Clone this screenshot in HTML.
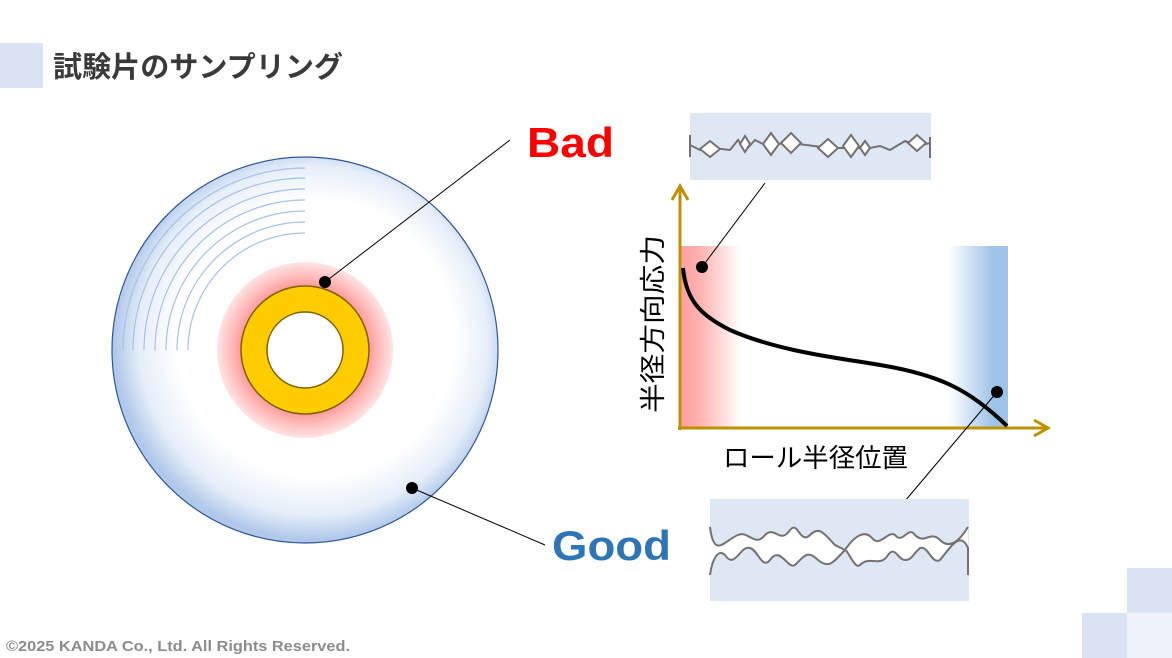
<!DOCTYPE html>
<html><head><meta charset="utf-8"><style>
html,body{margin:0;padding:0;background:#fff;}
body{width:1172px;height:658px;overflow:hidden;position:relative;font-family:"Liberation Sans","Noto Sans CJK JP",sans-serif;}
</style></head><body>
<svg width="1172" height="658" viewBox="0 0 1172 658" xmlns="http://www.w3.org/2000/svg" style="position:absolute;left:0;top:0">
<defs>
<radialGradient id="disk" cx="312" cy="342" r="198" fx="325" fy="330" gradientUnits="userSpaceOnUse">
<stop offset="0" stop-color="#fff"/><stop offset="0.7" stop-color="#fff"/><stop offset="0.88" stop-color="#e6eef9"/><stop offset="1" stop-color="#b0c8ea"/></radialGradient>
<radialGradient id="glow" cx="305" cy="350" r="88" gradientUnits="userSpaceOnUse">
<stop offset="0.6" stop-color="#ff7070"/><stop offset="0.8" stop-color="#ffb0b0"/><stop offset="1" stop-color="#ffe4e4"/></radialGradient>
<linearGradient id="red" x1="0" x2="1"><stop offset="0" stop-color="#ffa0a0"/><stop offset="0.3" stop-color="#ffb0b0"/><stop offset="1" stop-color="#fff"/></linearGradient>
<linearGradient id="blue" x1="0" x2="1"><stop offset="0" stop-color="#fff"/><stop offset="0.75" stop-color="#9ec3e8"/><stop offset="1" stop-color="#9ec3e8"/></linearGradient>
</defs>
<rect x="0" y="43" width="43" height="45" fill="#dae3f3"/>
<text x="53" y="77" font-size="29" font-weight="bold" fill="#3a3a3a" textLength="290" lengthAdjust="spacingAndGlyphs">試験片のサンプリング</text>
<circle cx="305" cy="350" r="193" fill="url(#disk)" stroke="#2f5597" stroke-width="1.2"/>
<g fill="none" stroke="#a9c0e6" stroke-width="1.2">
<path d="M123 350 A182 182 0 0 1 305 168"/>
<path d="M133 350 A172 172 0 0 1 305 178"/>
<path d="M144 350 A161 161 0 0 1 305 189"/>
<path d="M155 350 A150 150 0 0 1 305 200"/>
<path d="M166 350 A139 139 0 0 1 305 211"/>
<path d="M177 350 A128 128 0 0 1 305 222"/>
<path d="M188 350 A117 117 0 0 1 305 233"/>
</g>
<circle cx="305" cy="350" r="88" fill="url(#glow)"/>
<circle cx="305" cy="350" r="64" fill="#ffcc00" stroke="#7f6000" stroke-width="1.5"/>
<circle cx="305" cy="350" r="38" fill="#fff" stroke="#7f6000" stroke-width="1.5"/>
<line x1="325" y1="282" x2="510" y2="140" stroke="#000" stroke-width="1"/>
<circle cx="325" cy="282" r="6" fill="#000"/>
<line x1="412" y1="488" x2="545" y2="545" stroke="#000" stroke-width="1"/>
<circle cx="412" cy="488" r="6" fill="#000"/>
<text x="527" y="157" font-size="42" font-weight="bold" fill="#ff0000" textLength="87" lengthAdjust="spacingAndGlyphs">Bad</text>
<text x="552" y="560" font-size="42" font-weight="bold" fill="#2e75b6" textLength="119" lengthAdjust="spacingAndGlyphs">Good</text>
<!-- chart -->
<rect x="681" y="246" width="60" height="182" fill="url(#red)"/>
<rect x="948" y="246" width="60" height="182" fill="url(#blue)"/>
<path d="M680 430 V188 M672 200 L680 186 L688 200" fill="none" stroke="#bf9000" stroke-width="3"/>
<path d="M678 428 H1046 M1034 420 L1048 428 L1034 436" fill="none" stroke="#bf9000" stroke-width="3"/>
<path d="M683 268 C686 300 700 315 730 330 C780 352 840 358 880 365 C940 375 970 390 1007 426" fill="none" stroke="#000" stroke-width="4"/>
<circle cx="702" cy="267" r="6" fill="#000"/>
<circle cx="997" cy="392" r="6" fill="#000"/>
<line x1="702" y1="267" x2="765" y2="183" stroke="#000" stroke-width="1"/>
<line x1="997" y1="392" x2="905" y2="501" stroke="#000" stroke-width="1"/>
<text x="723" y="467" font-size="26" fill="#000" textLength="185" lengthAdjust="spacingAndGlyphs">ロール半径位置</text>
<text transform="translate(662 413) rotate(-90)" font-size="26" fill="#000" textLength="178" lengthAdjust="spacingAndGlyphs">半径方向応力</text>
<!-- top box -->
<rect x="690" y="113" width="241" height="67" fill="#dee8f4"/>
<g fill="#fff" stroke="#767171" stroke-width="2">
<path d="M690 145 L700 150 L712 148 L730 150 L738 140 L745 151 L755 140 L765 145 L790 143 L830 148 L870 148 L880 146 L890 150 L905 141 L918 146 L930 143" fill="none"/>
<path d="M690 135 V157 M930 137 V158" fill="none"/>
<path d="M700 149 l10 -8 l10 8 l-10 8z"/><path d="M740 144 l5 -8 l5 8 l-5 8z"/><path d="M763 144 l8 -11 l8 11 l-8 11z"/><path d="M781 143 l10 -10 l10 10 l-10 10z"/>
<path d="M818 148 l10 -9 l10 9 l-10 9z"/><path d="M843 146 l8 -11 l8 11 l-8 11z"/><path d="M860 148 l5 -7 l5 7 l-5 7z"/><path d="M908 143 l9 -8 l9 8 l-9 8z"/>
</g>
<!-- bottom box -->
<rect x="710" y="499" width="259" height="102" fill="#dee8f4"/>
<path d="M710 527 C714 560 725 540 738 535 C748 530 755 548 765 535 C775 525 780 545 790 530 C798 520 800 545 810 535 C820 525 825 535 835 545 L845 550 C855 535 865 530 872 538 C880 548 888 530 895 535 C903 545 908 525 915 535 C925 545 930 530 940 540 C950 550 960 540 968 527 L968 548 C960 530 950 548 940 560 C932 565 928 545 920 548 C912 555 912 560 905 560 C898 560 895 545 888 555 C880 568 870 555 860 565 C855 570 848 550 845 550 C835 560 830 570 818 560 C808 550 805 555 795 565 C788 570 780 545 770 560 C762 570 758 550 750 548 C740 545 735 570 725 555 C718 548 712 560 710 575 Z" fill="#fff"/>
<g fill="none" stroke="#767171" stroke-width="2">
<path d="M710 527 C714 560 725 540 738 535 C748 530 755 548 765 535 C775 525 780 545 790 530 C798 520 800 545 810 535 C820 525 825 535 835 545 L845 550 C855 535 865 530 872 538 C880 548 888 530 895 535 C903 545 908 525 915 535 C925 545 930 530 940 540 C950 550 960 540 968 527"/>
<path d="M710 575 C712 560 718 548 725 555 C735 570 740 545 750 548 C758 550 762 570 770 560 C780 545 788 570 795 565 C805 555 808 550 818 560 C830 570 835 560 845 550 C848 550 855 570 860 565 C870 555 880 568 888 555 C895 545 898 560 905 560 C912 560 912 555 920 548 C928 545 932 565 940 560 C950 548 960 530 968 548 V575"/>
</g>
<rect x="1127" y="568" width="45" height="45" fill="#dae3f3"/>
<rect x="1082" y="613" width="45" height="45" fill="#dae3f3"/>
<rect x="1127" y="613" width="45" height="45" fill="#eef2f9"/>
<text x="6" y="651" font-size="15" font-weight="bold" fill="#8c8c8c" textLength="344" lengthAdjust="spacingAndGlyphs">©2025 KANDA Co., Ltd. All Rights Reserved.</text>
</svg>
</body></html>
